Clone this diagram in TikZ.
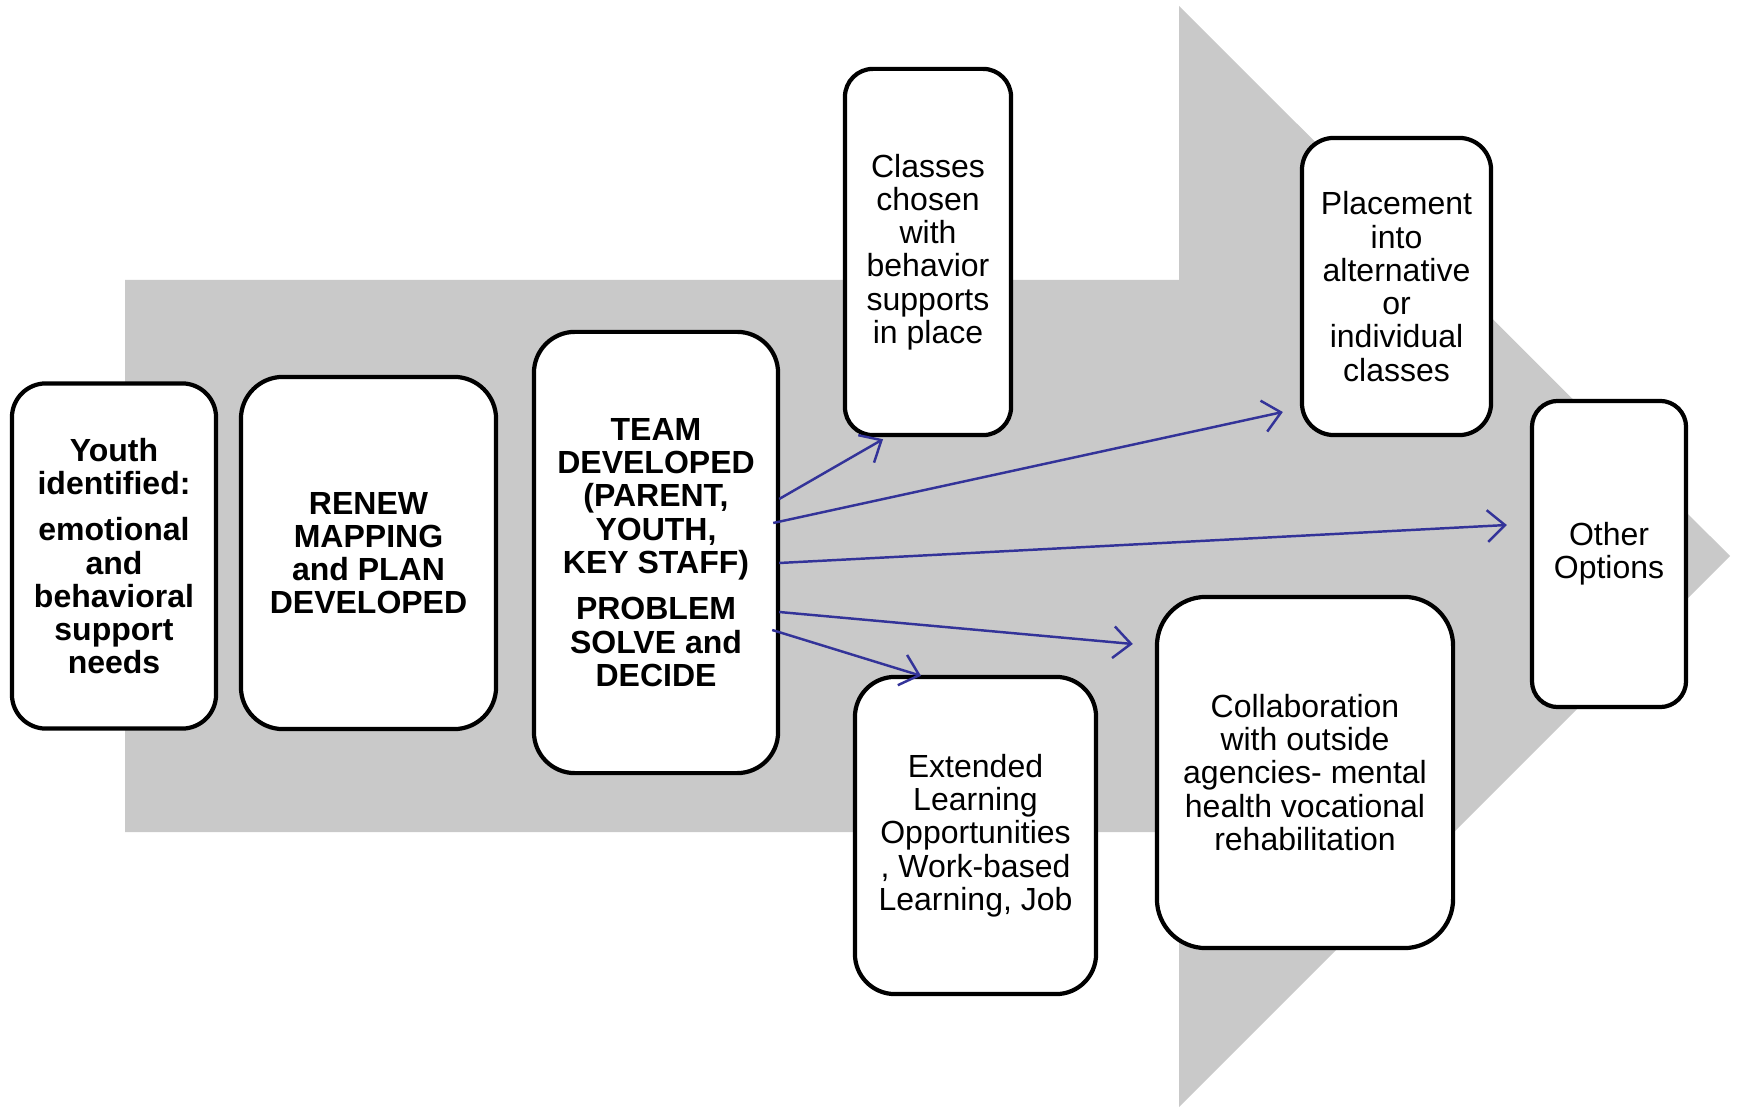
\documentclass[tikz,border=0pt]{standalone}
\usepackage{fontspec}
\setmainfont{Liberation Sans}
\usetikzlibrary{arrows.meta}
\definecolor{bandgray}{RGB}{201,201,201}
\definecolor{linkblue}{RGB}{51,51,153}

\begin{document}
\begin{tikzpicture}[x=0.01cm, y=-0.01cm,
    stage/.style={draw, line width=1.2pt, fill=white, align=center, inner sep=0pt,
        font=\fontsize{9.1}{9.45}\selectfont},
    link/.style={draw=linkblue, line width=0.7pt, -{Straight Barb[length=5pt,width=9pt]}}]

    % page size
    \useasboundingbox (0,0) rectangle (1737,1107);

    % big grey arrow behind the boxes
    \fill[bandgray] (125,280) -- (1179,280) -- (1179,6) -- (1730,556)
        -- (1179,1107) -- (1179,832) -- (125,832) -- cycle;

    % main steps
    \node[stage, font=\fontsize{9.1}{9.45}\selectfont\bfseries, rounded corners=0.34cm,
        minimum width=2.04cm, minimum height=3.45cm] (youth) at (114,556)
        {Youth\\identified:\\[3.8pt]emotional\\and\\behavioral\\support\\needs};
    \node[stage, font=\fontsize{9.1}{9.45}\selectfont\bfseries, rounded corners=0.42cm,
        minimum width=2.55cm, minimum height=3.52cm] (renew) at (368.5,553)
        {RENEW\\MAPPING\\and PLAN\\DEVELOPED};
    \node[stage, font=\fontsize{9.1}{9.45}\selectfont\bfseries, rounded corners=0.41cm,
        minimum width=2.44cm, minimum height=4.41cm] (team) at (656,552.5)
        {TEAM\\DEVELOPED\\(PARENT,\\YOUTH,\\KEY STAFF)\\[3.8pt]PROBLEM\\SOLVE and\\DECIDE};

    % options
    \node[stage, rounded corners=0.28cm, minimum width=1.66cm, minimum height=3.66cm]
        (classes) at (928,252)
        {Classes\\chosen\\with\\behavior\\supports\\in place};
    \node[stage, rounded corners=0.32cm, minimum width=1.89cm, minimum height=2.97cm]
        (placement) at (1396.5,286.5)
        {Placement\\into\\alternative\\or\\individual\\classes};
    \node[stage, rounded corners=0.26cm, minimum width=1.54cm, minimum height=3.06cm]
        (other) at (1609,554)
        {Other\\Options};
    \node[stage, rounded corners=0.40cm, minimum width=2.41cm, minimum height=3.17cm]
        (extended) at (975.5,835.5)
        {Extended\\Learning\\Opportunities\\, Work-based\\Learning, Job};
    \node[stage, rounded corners=0.49cm, minimum width=2.96cm, minimum height=3.51cm]
        (collab) at (1305,772.5)
        {Collaboration\\with outside\\agencies- mental\\health vocational\\rehabilitation};

    % links from the team box
    \draw[link] ([shift={(-1,-53.5)}]team.east) -- ([shift={(-45,2)}]classes.south);
    \draw[link] ([shift={(-7,-29.5)}]team.east) -- ([shift={(-17,125.5)}]placement.west);
    \draw[link] ([shift={(-1,10.5)}]team.east) -- ([shift={(-23,-29)}]other.west);
    \draw[link] ([shift={(-1,59.5)}]team.east) -- ([shift={(-22,-128.5)}]collab.west);
    \draw[link] ([shift={(-8,77.5)}]team.east) -- ([shift={(-54.5,1)}]extended.north);
\end{tikzpicture}
\end{document}
